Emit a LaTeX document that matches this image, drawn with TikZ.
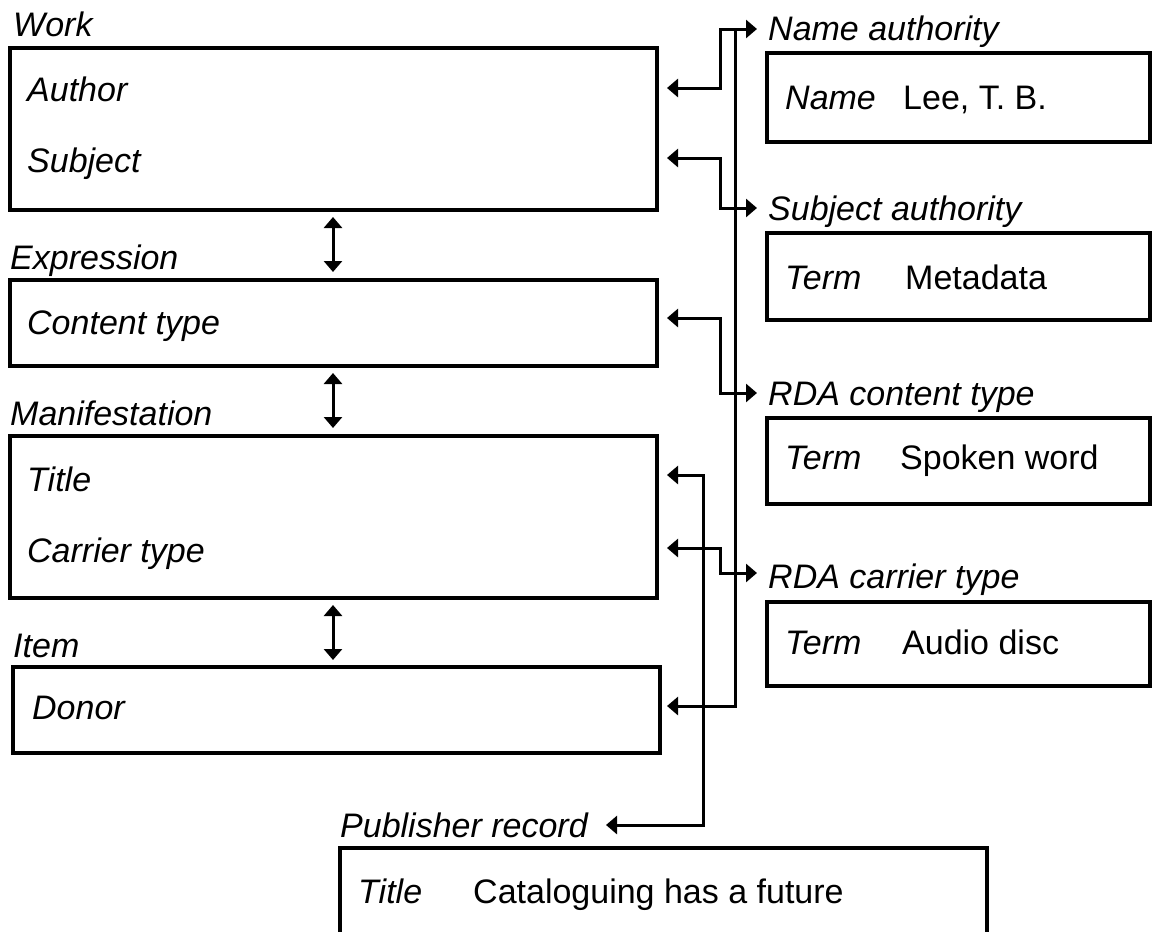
\documentclass[tikz,border=0pt]{standalone}
\usepackage{fontspec}
\setmainfont{Liberation Sans}
\usetikzlibrary{arrows.meta}
\tikzset{
  box/.style={draw=black, line width=3.2pt},
  lbl/.style={anchor=base west, inner sep=0pt, font=\fontsize{34}{40}\selectfont\itshape},
  fld/.style={anchor=base west, inner sep=0pt, font=\fontsize{34}{40}\selectfont\itshape},
  val/.style={anchor=base west, inner sep=0pt, font=\fontsize{34}{40}\selectfont},
  link/.style={line width=3pt, {Triangle[length=11pt,width=18pt]}-{Triangle[length=11pt,width=18pt]}},
  onelink/.style={line width=3pt, {Triangle[length=11pt,width=18pt]}-},
}
\begin{document}
\begin{tikzpicture}[x=1pt,y=-1pt]
\clip (0,0) rectangle (1152,932);
\fill[white] (0,0) rectangle (1152,932);

% left column
\node[lbl] (lwork) at (13,36) {Work};
\draw[box] (10,48) rectangle (657,210);
\node[fld] (author) at (27,101) {Author};
\node[fld] (subject) at (27,172) {Subject};

\node[lbl] (lexpr) at (10,269) {Expression};
\draw[box] (10,280) rectangle (657,366);
\node[fld] (content) at (27,334) {Content type};

\node[lbl] (lman) at (10,425) {Manifestation};
\draw[box] (10,436) rectangle (657,598);
\node[fld] (title) at (27,491) {Title};
\node[fld] (carrier) at (27,562) {Carrier type};

\node[lbl] (litem) at (13,657) {Item};
\draw[box] (13,667) rectangle (660,753);
\node[fld] (donor) at (32,719) {Donor};

% right column
\node[lbl] (lname) at (768,40) {Name authority};
\draw[box] (767,53) rectangle (1150,142);
\node[fld] (nameF) at (785,109) {Name};
\node[val] (nameV) at (903,109) {Lee, T. B.};

\node[lbl] (lsubj) at (768,220) {Subject authority};
\draw[box] (767,233) rectangle (1150,320);
\node[fld] (subjF) at (785,289) {Term};
\node[val] (subjV) at (905,289) {Metadata};

\node[lbl] (lcont) at (768,405) {RDA content type};
\draw[box] (767,418) rectangle (1150,504);
\node[fld] (contF) at (785,469) {Term};
\node[val] (contV) at (900,469) {Spoken word};

\node[lbl] (lcarr) at (768,588) {RDA carrier type};
\draw[box] (767,602) rectangle (1150,686);
\node[fld] (carrF) at (785,654) {Term};
\node[val] (carrV) at (902,654) {Audio disc};

% publisher
\node[lbl] (lpub) at (340,837) {Publisher record};
\draw[box] (340,848) rectangle (987,960);
\node[fld] (pubF) at (358,903) {Title};
\node[val] (pubV) at (473,903) {Cataloguing has a future};

% arrow end points
\coordinate (tAuthor) at (667,88);
\coordinate (tSubject) at (667,158);
\coordinate (tContent) at (667,318);
\coordinate (tTitle) at (667,475);
\coordinate (tCarrier) at (667,548);
\coordinate (tDonor) at (667,706);
\coordinate (tName) at (757,29);
\coordinate (tSubjA) at (757,208);
\coordinate (tContA) at (757,393);
\coordinate (tCarrA) at (757,573);
\coordinate (tPub) at (606,825);

% connectors
\draw[link] (tAuthor) -- (720,88) -- (720,29) -- (tName);
\draw[onelink] (tDonor) -- (735,706) -- (735,29);
\draw[link] (tSubject) -- (720,158) -- (720,208) -- (tSubjA);
\draw[link] (tContent) -- (720,318) -- (720,393) -- (tContA);
\draw[link] (tCarrier) -- (720,548) -- (720,573) -- (tCarrA);
\draw[link] (tTitle) -- (703,475) -- (703,825) -- (tPub);

% hierarchy arrows
\draw[link] (333,217) -- (333,272);
\draw[link] (333,373) -- (333,428);
\draw[link] (333,605) -- (333,660);
\end{tikzpicture}
\end{document}
